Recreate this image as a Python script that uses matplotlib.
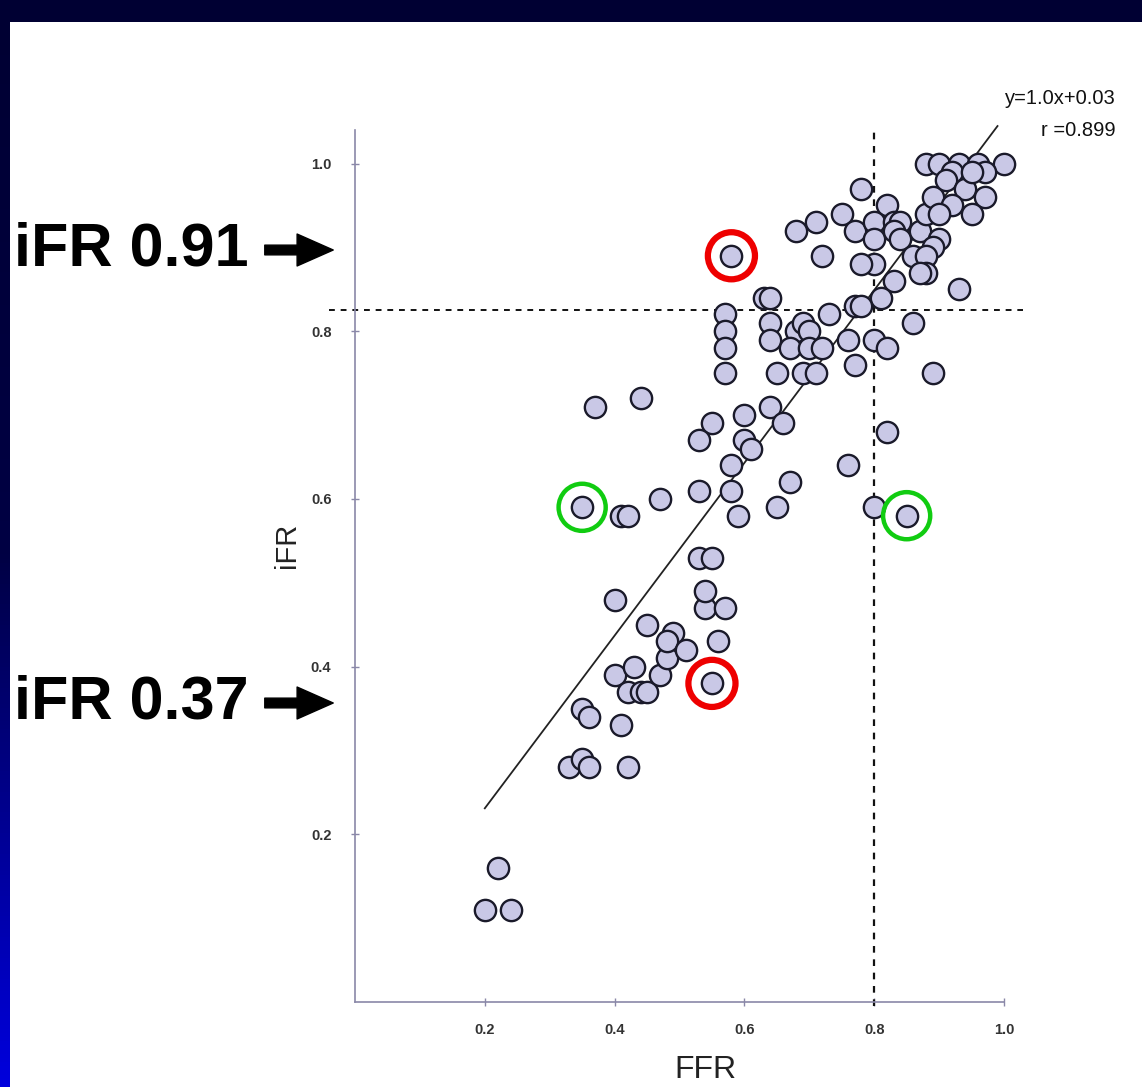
import numpy as np
import matplotlib
matplotlib.use("Agg")
import matplotlib.pyplot as plt
from matplotlib.patches import Rectangle, FancyArrowPatch

plt.rcParams['font.family'] = ['Liberation Sans', 'DejaVu Sans']

# FFR / iFR pairs
ffr = [0.22, 0.20, 0.24,
       0.33, 0.35, 0.36, 0.42, 0.35, 0.36, 0.41,
       0.40, 0.43, 0.42, 0.44, 0.45, 0.47, 0.48, 0.49, 0.48, 0.51,
       0.45, 0.56, 0.54, 0.57, 0.55, 0.40, 0.54, 0.53, 0.55,
       0.37, 0.44, 0.35, 0.41, 0.42, 0.47, 0.53, 0.58, 0.55, 0.53, 0.58, 0.59,
       0.60, 0.64, 0.66, 0.60, 0.61, 0.65, 0.67, 0.76, 0.80, 0.85, 0.82,
       0.57, 0.57, 0.57, 0.57, 0.63, 0.64, 0.64, 0.64,
       0.68, 0.69, 0.70, 0.67, 0.70, 0.72, 0.65, 0.69, 0.71,
       0.73, 0.77, 0.76, 0.77, 0.80, 0.82, 0.86, 0.89, 0.93,
       0.58, 0.72, 0.68, 0.71, 0.75, 0.77, 0.78, 0.82, 0.80, 0.80, 0.83, 0.84, 0.83, 0.84,
       0.80, 0.78, 0.83, 0.81, 0.78,
       0.87, 0.88, 0.90, 0.89, 0.86, 0.88, 0.88, 0.87,
       0.89, 0.88, 0.90, 0.93, 0.96, 1.00, 0.92, 0.91,
       0.97, 0.94, 0.97, 0.92, 0.95, 0.90, 0.95]
ifr = [0.16, 0.11, 0.11,
       0.28, 0.29, 0.28, 0.28, 0.35, 0.34, 0.33,
       0.39, 0.40, 0.37, 0.37, 0.37, 0.39, 0.41, 0.44, 0.43, 0.42,
       0.45, 0.43, 0.47, 0.47, 0.38, 0.48, 0.49, 0.53, 0.53,
       0.71, 0.72, 0.59, 0.58, 0.58, 0.60, 0.61, 0.61, 0.69, 0.67, 0.64, 0.58,
       0.70, 0.71, 0.69, 0.67, 0.66, 0.59, 0.62, 0.64, 0.59, 0.58, 0.68,
       0.82, 0.80, 0.78, 0.75, 0.84, 0.84, 0.81, 0.79,
       0.80, 0.81, 0.80, 0.78, 0.78, 0.78, 0.75, 0.75, 0.75,
       0.82, 0.83, 0.79, 0.76, 0.79, 0.78, 0.81, 0.75, 0.85,
       0.89, 0.89, 0.92, 0.93, 0.94, 0.92, 0.97, 0.95, 0.93, 0.91, 0.93, 0.93, 0.92, 0.91,
       0.88, 0.88, 0.86, 0.84, 0.83,
       0.92, 0.94, 0.91, 0.90, 0.89, 0.89, 0.87, 0.87,
       0.96, 1.00, 1.00, 1.00, 1.00, 1.00, 0.99, 0.98,
       0.99, 0.97, 0.96, 0.95, 0.94, 0.94, 0.99]

red_ffr = [0.58, 0.55]
red_ifr = [0.89, 0.38]
green_ffr = [0.35, 0.85]
green_ifr = [0.59, 0.58]

ffr_cut = 0.8
ifr_cut = 0.825
slope, intercept = 1.03, 0.025
fit_x = [0.2, 0.99]

ticks = [0.2, 0.4, 0.6, 0.8, 1.0]
tick_labels = ["0.2", "0.4", "0.6", "0.8", "1.0"]

W, H = 1142, 1087
fig = plt.figure(figsize=(W / 100, H / 100), dpi=100)
fig.patch.set_facecolor("white")

# dark slide border: top band and left gradient band
fig.patches.append(Rectangle((0, 1 - 22 / H), 1, 22 / H, transform=fig.transFigure,
                             facecolor="#000033", edgecolor="none", zorder=0))
gax = fig.add_axes([0, 0, 10 / W, 1 - 22 / H])
grad = np.linspace(0, 1, 256).reshape(-1, 1)
cmap = matplotlib.colors.LinearSegmentedColormap.from_list("b", ["#000033", "#000044", "#0000dd"])
gax.imshow(grad, aspect="auto", cmap=cmap, origin="upper")
gax.axis("off")

ax = fig.add_axes([355 / W, 1 - 1002 / H, 649 / W, (1002 - 130) / H])
ax.set_xlim(0, 1.0)
ax.set_ylim(0, 1.04)

for s in ["top", "right"]:
    ax.spines[s].set_visible(False)
for s in ["left", "bottom"]:
    ax.spines[s].set_color("#8a88a8")
    ax.spines[s].set_linewidth(1.2)

ax.set_xticks(ticks)
ax.set_xticklabels(tick_labels)
ax.set_yticks(ticks)
ax.set_yticklabels(tick_labels)
ax.tick_params(direction="inout", length=6, width=1, color="#8a88a8",
               labelsize=10.5, labelcolor="#333333")
ax.tick_params(axis="x", pad=12)
ax.tick_params(axis="y", pad=14)
for lab in ax.get_xticklabels() + ax.get_yticklabels():
    lab.set_fontweight("bold")

# cut-off lines
ax.plot([ffr_cut, ffr_cut], [-0.005, 1.045], ls=(0, (3, 3)), color="#111111", lw=1.6, clip_on=False)
ax.plot([-0.04, 1.03], [ifr_cut, ifr_cut], ls=(0, (3, 3)), color="#111111", lw=1.4, clip_on=False)

# regression line
fx = np.array(fit_x)
ax.plot(fx, slope * fx + intercept, color="#222222", lw=1.3, clip_on=False, zorder=2)

ax.scatter(ffr, ifr, s=235, facecolor="#c9c8e6", edgecolor="#1a1a2a", linewidth=1.7,
           zorder=3, clip_on=False)

ax.scatter(red_ffr, red_ifr, s=1150, facecolor="none", edgecolor="#ee0000", linewidth=4.5,
           zorder=4, clip_on=False)
ax.scatter(green_ffr, green_ifr, s=1150, facecolor="none", edgecolor="#11cc11", linewidth=3.2,
           zorder=4, clip_on=False)

ax.text(1.172, 1.077, "y=1.0x+0.03", ha="right", va="center", fontsize=14.5, color="#111111")
ax.text(1.172, 1.039, "r =0.899", ha="right", va="center", fontsize=14.5, color="#111111")

fig.text(705 / W, 1 - 1070 / H, "FFR", ha="center", va="center", fontsize=23, color="#222222")
fig.text(287 / W, 1 - 545 / H, "iFR", ha="center", va="center", fontsize=21, rotation=90,
         color="#222222")

for lab, yp in [("iFR 0.91", 250), ("iFR 0.37", 703)]:
    fig.text(14 / W, 1 - yp / H, lab, ha="left", va="center", fontsize=44,
             fontweight="bold", color="black")
    fig.add_artist(FancyArrowPatch(
        (262 / W, 1 - yp / H), (336 / W, 1 - yp / H), transform=fig.transFigure,
        arrowstyle="simple,head_length=1.3,tail_width=0.35,head_width=1.15",
        mutation_scale=20, color="black"))

fig.savefig("out.png", dpi=100)
